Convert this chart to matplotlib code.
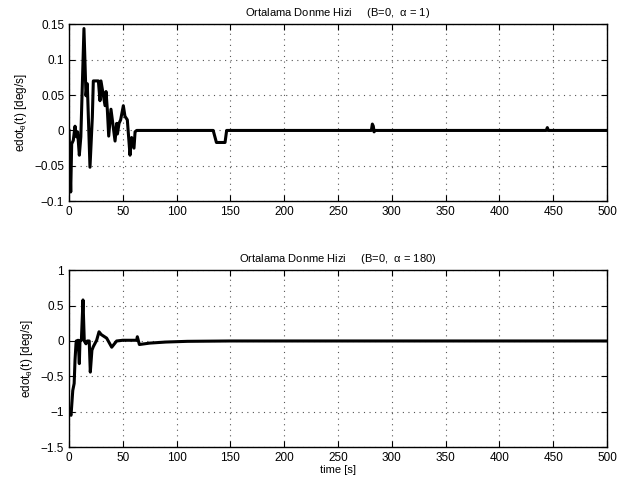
import matplotlib.pyplot as plt
from matplotlib.ticker import FuncFormatter
plt.switch_backend('Agg')

plt.rcParams['font.family'] = ['Liberation Sans', 'DejaVu Sans']
plt.rcParams['mathtext.fontset'] = 'custom'
plt.rcParams['mathtext.rm'] = 'Liberation Sans'
plt.rcParams['mathtext.it'] = 'Liberation Sans'

# alpha = 1 case
t1 = [0, 1.6, 2.5, 4, 5.6, 7, 8, 9.6, 11, 13.9, 15.8, 17, 19.5, 21.7, 22.6,
      27.3, 28.8, 29.7, 33.5, 34.4, 35.6, 36.9, 39, 42.8, 44.3, 45, 46.5, 48,
      50.5, 52, 54.2, 56.7, 58.2, 60.4, 61.4, 62.9, 134, 137, 145, 146.5,
      281, 281.9, 282.8, 283.5, 284.5, 443.5, 444.5, 445.5, 500]
y1 = [0, -0.087, -0.019, -0.014, 0.006, -0.009, -0.002, -0.035, -0.009, 0.144,
      0.049, 0.066, -0.052, 0.019, 0.07, 0.07, 0.042, 0.07, 0.035, 0.055,
      0.03, -0.008, 0.03, -0.015, 0.01, -0.005, 0.01, 0.015, 0.035, 0.02,
      0.015, -0.035, -0.01, -0.025, -0.002, 0, 0, -0.017, -0.017, 0,
      0, 0.009, 0.006, -0.002, 0, 0, 0.004, 0, 0]

# alpha = 180 case
t2 = [0, 1.9, 3.5, 4.8, 5.6, 6.5, 6.8, 8.5, 9.6, 10.2, 11.5, 13, 14.2, 15.8,
      17, 18.8, 19.8, 21.3, 22.6, 25.7, 27.9, 30, 35, 39.7, 44.3, 50, 62.9,
      63.5, 65.4, 75, 90, 110, 150, 500]
y2 = [-1.0, -1.05, -0.7, -0.6, -0.27, -0.04, 0, 0.01, -0.32, 0, 0.01, 0.58,
      0, -0.04, 0, 0, -0.44, -0.13, -0.08, 0.01, 0.13, 0.09, 0.04, -0.088, 0,
      0.01, 0.01, 0.06, -0.05, -0.03, -0.015, -0.005, 0, 0]

fmt = FuncFormatter(lambda v, p: ('%g' % v).replace('-', '\u2212'))

fig = plt.figure(figsize=(6.33, 4.86), dpi=100)
ax1 = fig.add_axes([0.109, 0.586, 0.85, 0.364])
ax2 = fig.add_axes([0.109, 0.080, 0.85, 0.364])

for ax, t, y, ttl, lim, ticks in [
        (ax1, t1, y1, 'Ortalama Donme Hizi     (B=0,  $\\alpha$ = 1)',
         (-0.1, 0.15), [-0.1, -0.05, 0, 0.05, 0.1, 0.15]),
        (ax2, t2, y2, 'Ortalama Donme Hizi     (B=0,  $\\alpha$ = 180)',
         (-1.5, 1), [-1.5, -1, -0.5, 0, 0.5, 1])]:
    ax.plot(t, y, color='black', lw=2.2)
    ax.set_xlim(0, 500)
    ax.set_ylim(*lim)
    ax.set_yticks(ticks)
    ax.set_xticks(range(0, 501, 50))
    ax.yaxis.set_major_formatter(fmt)
    ax.grid(True, linestyle=(0, (1, 4)), color='#555555', lw=0.8)
    ax.tick_params(direction='in', top=True, right=True, labelsize=8.5,
                   length=4, width=0.8)
    for s in ax.spines.values():
        s.set_linewidth(1.0)
    ax.set_title(ttl, fontsize=8, pad=6)
    ax.set_ylabel('edot$_{\\theta}$(t) [deg/s]', fontsize=8.5)

ax2.set_xlabel('time [s]', fontsize=8, labelpad=1)

plt.savefig('out.png', dpi=100)
